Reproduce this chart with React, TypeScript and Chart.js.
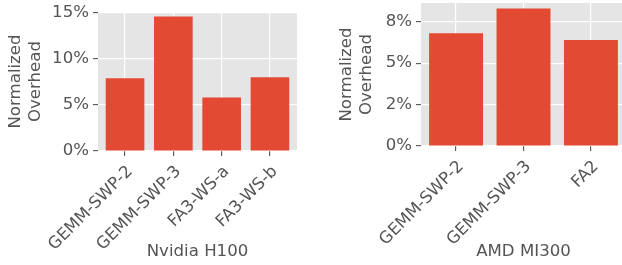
import React, { useEffect, useRef } from "react";
import { Chart, registerables } from "chart.js";

Chart.register(...registerables);

// ---- data ----
const h100Labels = ["GEMM-SWP-2", "GEMM-SWP-3", "FA3-WS-a", "FA3-WS-b"];
const h100Values = [7.9, 14.6, 5.8, 8.0];
const h100YTicks = [0, 5, 10, 15];
const h100YTickLabels = ["0%", "5%", "10%", "15%"];
const h100Title = "Nvidia H100";

const mi300Labels = ["GEMM-SWP-2", "GEMM-SWP-3", "FA2"];
const mi300Values = [6.8, 8.3, 6.4];
const mi300YTicks = [0, 2.5, 5, 7.5];
const mi300YTickLabels = ["0%", "2%", "5%", "8%"];
const mi300Title = "AMD MI300";

const yTitle = ["Normalized", "Overhead"];

// ---- styles ----
const FONT = "'DejaVu Sans', sans-serif";
const TEXT = "#555555";
const PANEL_BG = "#E5E5E5";
const BAR = "#E24A33";
const FS = 16.6;

const bgPlugin = {
  id: "panelBg",
  beforeDraw(chart: any) {
    const { ctx, chartArea: a } = chart;
    ctx.save();
    ctx.fillStyle = PANEL_BG;
    ctx.fillRect(a.left, a.top, a.right - a.left, a.bottom - a.top);
    ctx.restore();
  },
};

type PanelProps = {
  labels: string[];
  values: number[];
  yTicks: number[];
  yTickLabels: string[];
  yMax: number;
  xMin: number;
  xMax: number;
  xTitle: string;
  left: number;
  width: number;
  padTop: number;
  padRight: number;
  yWidth: number;
  xHeight: number;
  yTitlePad: number;
};

function Panel(p: PanelProps) {
  const ref = useRef<HTMLCanvasElement | null>(null);
  useEffect(() => {
    if (!ref.current) return;
    const chart = new Chart(ref.current, {
      type: "bar",
      data: {
        datasets: [
          {
            data: p.values.map((v, i) => ({ x: i, y: v })),
            backgroundColor: BAR,
            borderWidth: 0,
            categoryPercentage: 0.8,
            barPercentage: 1,
          },
        ],
      },
      options: {
        responsive: false,
        animation: false,
        devicePixelRatio: 1,
        layout: { padding: { top: p.padTop, right: p.padRight, left: 0, bottom: 0 } },
        plugins: { legend: { display: false }, tooltip: { enabled: false } },
        scales: {
          x: {
            type: "linear",
            min: p.xMin,
            max: p.xMax,
            offset: false,
            afterBuildTicks: (s: any) => {
              s.ticks = p.labels.map((_, i) => ({ value: i }));
            },
            afterFit: (s: any) => {
              s.height = p.xHeight;
              s.paddingLeft = 0;
              s.paddingRight = 0;
            },
            ticks: {
              autoSkip: false,
              minRotation: 45,
              maxRotation: 45,
              padding: 6,
              labelOffset: 5,
              color: TEXT,
              font: { family: FONT, size: FS },
              callback: (v: any) => p.labels[Math.round(Number(v))] ?? "",
            },
            grid: {
              offset: false,
              color: "#FFFFFF",
              lineWidth: 1.2,
              drawTicks: true,
              tickLength: 5,
              tickColor: TEXT,
              tickWidth: 1.1,
            },
            border: { display: false },
            title: {
              display: true,
              text: p.xTitle,
              color: TEXT,
              font: { family: FONT, size: FS },
              padding: { top: 4, bottom: 3 },
            },
          },
          y: {
            type: "linear",
            min: 0,
            max: p.yMax,
            afterBuildTicks: (s: any) => {
              s.ticks = p.yTicks.map((v) => ({ value: v }));
            },
            afterFit: (s: any) => {
              s.width = p.yWidth;
              s.paddingTop = 0;
              s.paddingBottom = 0;
            },
            ticks: {
              padding: 4,
              color: TEXT,
              font: { family: FONT, size: FS },
              callback: (_v: any, i: number) => p.yTickLabels[i],
            },
            grid: {
              color: "#FFFFFF",
              lineWidth: 1.2,
              drawTicks: true,
              tickLength: 5,
              tickColor: TEXT,
              tickWidth: 1.1,
            },
            border: { display: false },
            title: {
              display: true,
              text: yTitle,
              color: TEXT,
              font: { family: FONT, size: FS },
              padding: { top: p.yTitlePad, bottom: 0 },
            },
          },
        },
      },
      plugins: [bgPlugin],
    } as any);
    return () => chart.destroy();
  }, []);
  return (
    <canvas
      ref={ref}
      width={p.width}
      height={265}
      style={{ position: "absolute", left: p.left, top: 0, width: p.width, height: 265 }}
    />
  );
}

export default function App() {
  return (
    <div
      style={{
        position: "absolute",
        left: 0,
        top: 0,
        width: 622,
        height: 265,
        overflow: "hidden",
        background: "#FFFFFF",
      }}
    >
      <Panel
        labels={h100Labels}
        values={h100Values}
        yTicks={h100YTicks}
        yTickLabels={h100YTickLabels}
        yMax={15.1}
        xMin={-0.56}
        xMax={3.56}
        xTitle={h100Title}
        left={0}
        width={311}
        padTop={12}
        padRight={14}
        yWidth={98}
        xHeight={114}
        yTitlePad={5.4}
      />
      <Panel
        labels={mi300Labels}
        values={mi300Values}
        yTicks={mi300YTicks}
        yTickLabels={mi300YTickLabels}
        yMax={8.63}
        xMin={-0.52}
        xMax={2.52}
        xTitle={mi300Title}
        left={311}
        width={320}
        padTop={3}
        padRight={5}
        yWidth={110}
        xHeight={119}
        yTitlePad={26}
      />
    </div>
  );
}
